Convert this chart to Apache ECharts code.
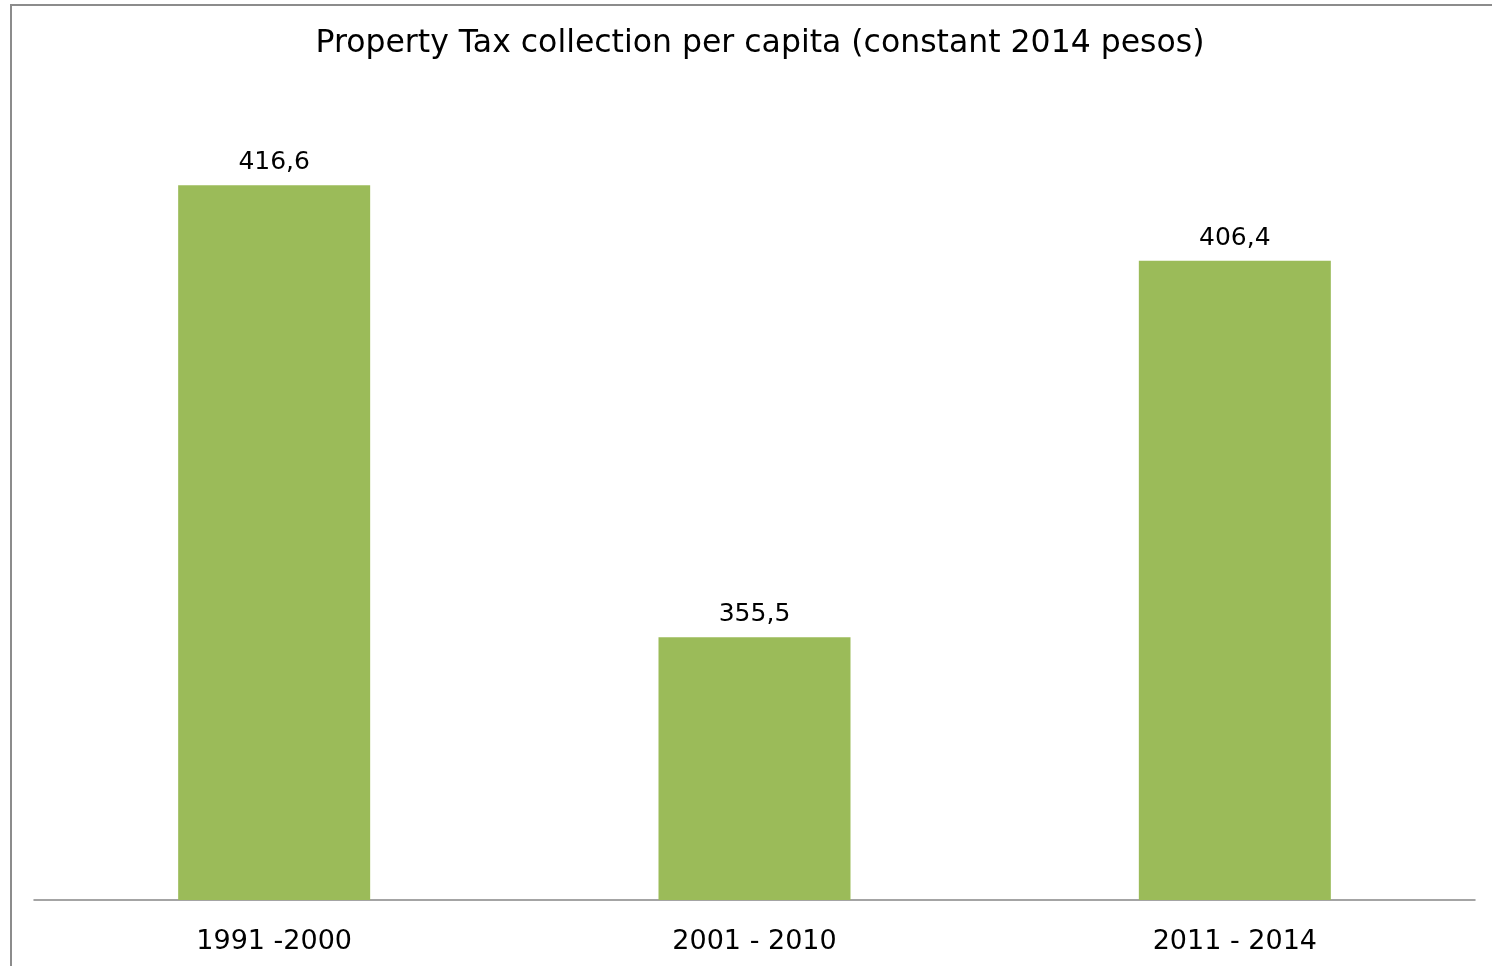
<!DOCTYPE html>
<html>
<head>
<meta charset="utf-8">
<script src="https://cdn.jsdelivr.net/npm/echarts@6/dist/echarts.min.js"></script>
<style>
  html, body { margin: 0; padding: 0; background: #fff; }
  #chart { width: 1492px; height: 966px; }
</style>
</head>
<body>
<div id="chart"></div>
<script>
// Periods and average property tax collected per person (constant 2014 pesos)
const periods = ['1991 -2000', '2001 - 2010', '2011 - 2014'];
const taxPerCapita = [416.6, 355.5, 406.4];

const chart = echarts.init(document.getElementById('chart'), null, { renderer: 'canvas' });

const fontFamily = '"DejaVu Sans", sans-serif';

chart.setOption({
  animation: false,
  backgroundColor: '#ffffff',
  title: {
    text: 'Property Tax collection per capita (constant 2014 pesos)',
    left: 755,
    top: 23,
    textAlign: 'center',
    textStyle: { fontFamily, fontSize: 31.5, fontWeight: 'normal', color: '#000' }
  },
  graphic: [{
    type: 'rect',
    silent: true,
    shape: { x: 11, y: 5, width: 1600, height: 1200 },
    style: { fill: 'none', stroke: '#8c8c8c', lineWidth: 2 }
  }],
  grid: { left: 34, right: 17, top: 160, bottom: 66 },
  xAxis: {
    type: 'category',
    data: periods,
    axisLine: { show: true, lineStyle: { color: '#868686', width: 1.5 } },
    axisTick: { show: false },
    axisLabel: { fontFamily, fontSize: 27, color: '#000', margin: 28 }
  },
  yAxis: {
    type: 'value',
    min: 320,
    max: 420,
    show: false,
    splitLine: { show: false }
  },
  series: [{
    type: 'bar',
    data: taxPerCapita,
    barWidth: 192,
    itemStyle: { color: '#9bbb59' },
    label: {
      show: true,
      position: 'top',
      distance: 10,
      fontFamily,
      fontSize: 25,
      color: '#000',
      formatter: p => p.value.toFixed(1).replace('.', ',')
    }
  }]
});
</script>
</body>
</html>
